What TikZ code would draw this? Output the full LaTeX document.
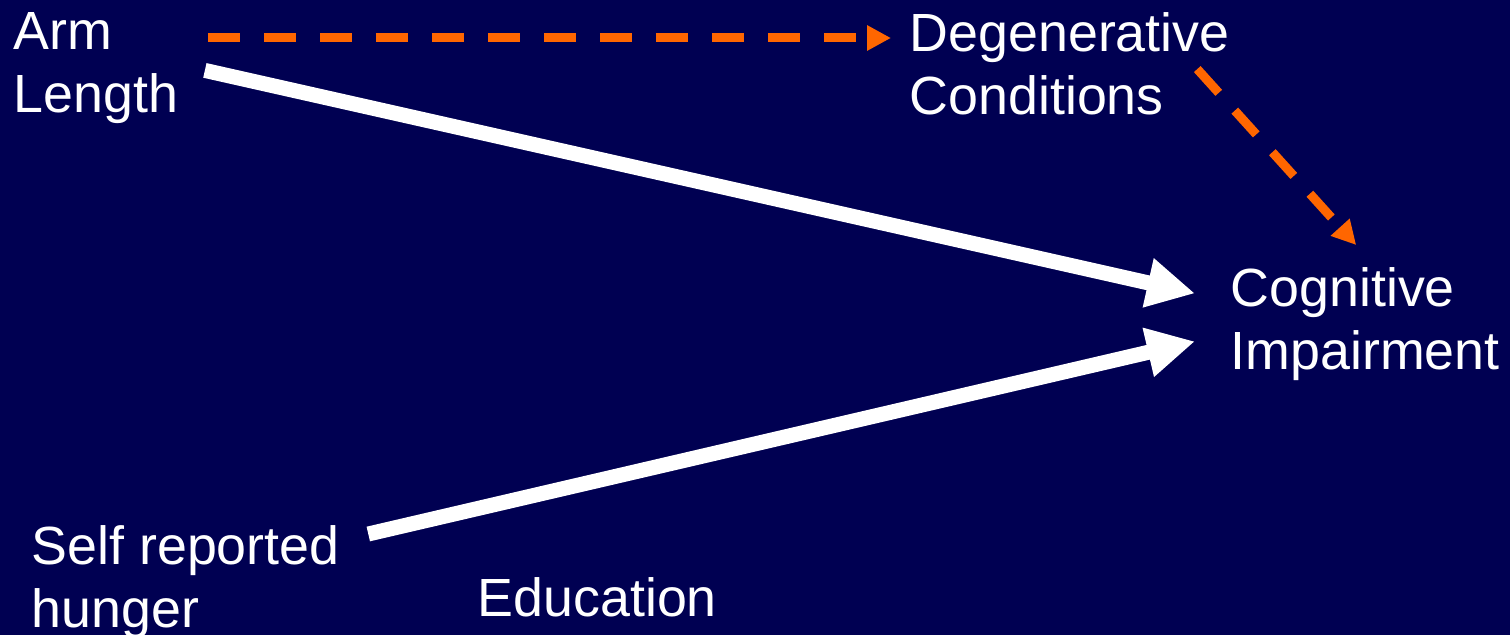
\documentclass[tikz,border=0pt]{standalone}
\usepackage{fontspec}
\setmainfont{Liberation Sans}
\usetikzlibrary{arrows.meta}
\definecolor{nenXanh}{RGB}{0,0,82}
\definecolor{mauCam}{RGB}{255,102,0}

\begin{document}
\begin{tikzpicture}[>=Triangle, font=\fontsize{15.3}{18}\selectfont, line join=round,
	nhan/.style={align=left, inner sep=0pt, anchor=north west, text=white},
	muiTrang/.style={draw=white, line width=0.15cm, -{Triangle[length=0.48cm,width=0.47cm]}},
	muiCam/.style={draw=mauCam, line width=0.09cm, dash pattern=on 0.32cm off 0.24cm, -{Triangle[length=0.24cm,width=0.24cm]}}]
	% [Background - Layer 1]
	\fill[nenXanh] (0,0) rectangle (15.1,-6.35);
	\useasboundingbox (0,0) rectangle (15.1,-6.35);
	
	% [Labels - Layer 2]
	\node[nhan] (arm) at (0.13,-0.12) {Arm\\Length};
	\node[nhan] (degen) at (9.09,-0.12) {Degenerative\\Conditions};
	\node[nhan] (cog) at (12.30,-2.67) {Cognitive\\Impairment};
	\node[nhan] (hunger) at (0.31,-5.25) {Self reported\\hunger};
	\node[nhan] (edu) at (4.77,-5.77) {Education};
	
	% [Dashed paths - Layer 3]
	\draw[muiCam] ([shift={(0.29,-0.26)}]arm.north east) -- ([shift={(-0.18,-0.26)}]degen.north west);
	\draw[muiCam] ([shift={(-0.33,-0.05)}]degen.east) -- ([shift={(-0.09,0.22)}]cog.north);
	
	% [Direct paths - Layer 4]
	\draw[muiTrang] ([shift={(0.26,-0.02)}]arm.east) -- ([shift={(-0.35,0.31)}]cog.west);
	\draw[muiTrang] ([shift={(0.28,-0.09)}]hunger.north east) -- ([shift={(-0.35,-0.17)}]cog.west);
\end{tikzpicture}
\end{document}
